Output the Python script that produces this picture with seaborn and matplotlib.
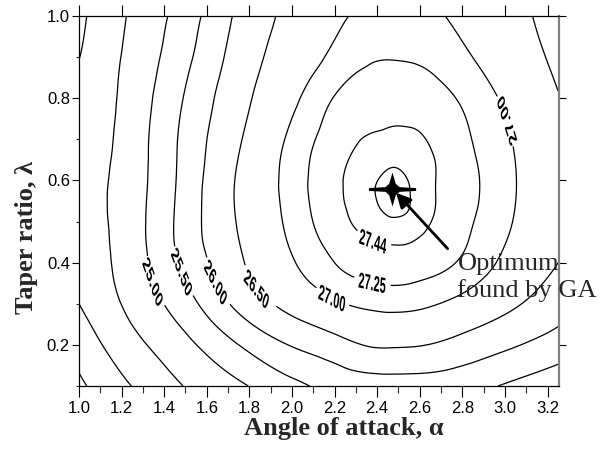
import numpy as np
import matplotlib
matplotlib.use("Agg")
import matplotlib.pyplot as plt
import matplotlib.tri as mtri
from matplotlib.textpath import TextPath
from matplotlib.font_manager import FontProperties
from matplotlib.patches import PathPatch
from matplotlib.transforms import Affine2D
import seaborn as sns

# Sample grid: angle of attack (columns) and taper ratio (rows)
alpha_grid = [1.0, 1.25, 1.5, 1.75, 2.0, 2.2, 2.35, 2.47, 2.6, 2.8, 3.0, 3.25]
taper_grid = [0.1, 0.2, 0.3, 0.4, 0.48, 0.58, 0.68, 0.8, 0.9, 1.0]

# Response values, one list per taper ratio (bottom to top)
resp_t010 = [23.41, 24.01, 24.52, 24.92, 25.37, 25.66, 25.74, 25.77, 25.76, 25.68, 25.46, 25.15]
resp_t020 = [23.70, 24.35, 24.88, 25.50, 26.03, 26.31, 26.52, 26.55, 26.52, 26.33, 26.09, 25.78]
resp_t030 = [24.00, 24.63, 25.30, 26.13, 26.66, 26.95, 27.06, 27.09, 27.06, 26.89, 26.62, 26.22]
resp_t040 = [24.18, 24.76, 25.62, 26.43, 26.97, 27.25, 27.35, 27.38, 27.35, 27.22, 26.93, 26.50]
resp_t048 = [24.25, 24.79, 25.72, 26.52, 27.07, 27.36, 27.46, 27.478, 27.456, 27.30, 27.04, 26.62]
resp_t058 = [24.28, 24.78, 25.69, 26.56, 27.12, 27.41, 27.487, 27.515, 27.481, 27.34, 27.086, 26.66]
resp_t068 = [24.20, 24.75, 25.65, 26.48, 27.09, 27.37, 27.459, 27.473, 27.463, 27.31, 27.06, 26.62]
resp_t080 = [24.10, 24.70, 25.54, 26.34, 26.92, 27.26, 27.35, 27.375, 27.358, 27.22, 26.95, 26.52]
resp_t090 = [23.99, 24.64, 25.38, 26.21, 26.75, 27.07, 27.22, 27.24, 27.22, 27.06, 26.79, 26.41]
resp_t100 = [23.90, 24.57, 25.25, 26.09, 26.63, 26.93, 27.06, 27.12, 27.08, 26.92, 26.67, 26.35]

contour_levels = [23.5, 24.0, 24.5, 25.0, 25.5, 26.0, 26.5, 27.0, 27.25, 27.44, 27.5]

# Optimum located by the genetic algorithm
opt_alpha = 2.47
opt_taper = 0.58

x_ticks = [1.0, 1.2, 1.4, 1.6, 1.8, 2.0, 2.2, 2.4, 2.6, 2.8, 3.0, 3.2]
y_ticks = [0.2, 0.4, 0.6, 0.8, 1.0]

sns.set_style("ticks")
plt.rcParams["font.family"] = ["Liberation Sans", "DejaVu Sans"]
serif = ["Liberation Serif", "DejaVu Serif"]

fig = plt.figure(figsize=(6.07, 4.5), dpi=100)
ax = fig.add_axes([79 / 607, 64 / 450, 480 / 607, 370 / 450])
ax.set_xlim(1.0, 3.254)
ax.set_ylim(0.1, 1.0)
ax.set_autoscale_on(False)

# Smooth the sampled response with the library's cubic triangulation refiner
Z = np.array([resp_t010, resp_t020, resp_t030, resp_t040, resp_t048,
              resp_t058, resp_t068, resp_t080, resp_t090, resp_t100])
A, T = np.meshgrid(alpha_grid, taper_grid)
y_scale = 2.5
tri = mtri.Triangulation(A.ravel(), T.ravel() * y_scale)
interp = mtri.CubicTriInterpolator(tri, Z.ravel(), kind="min_E")
tri_f, z_f = mtri.UniformTriRefiner(tri).refine_field(Z.ravel(), triinterpolator=interp, subdiv=5)
tri_plot = mtri.Triangulation(tri_f.x, tri_f.y / y_scale, tri_f.triangles)

cs = ax.tricontour(tri_plot, z_f, levels=contour_levels,
                   colors="black", linewidths=0.9)

# Inline labels; gaps sized for the narrow labels drawn afterwards
steep_spots = [(1.384, 0.36), (1.488, 0.379), (1.652, 0.355), (1.844, 0.34),
               (2.997, 0.743)]
flat_spots = [(2.186, 0.312), (2.374, 0.345), (2.37, 0.44)]
with plt.rc_context({"font.family": ["Liberation Sans", "DejaVu Sans"],
                     "font.weight": "bold"}):
    ax.clabel(cs, fmt="%.2f", fontsize=14, inline=True,
              inline_spacing=2, manual=steep_spots)
    ax.clabel(cs, fmt="%.2f", fontsize=9.5, inline=True,
              inline_spacing=2, manual=flat_spots)

# Redraw each label as a horizontally squeezed bold glyph outline
squeeze = 0.5
label_font = FontProperties(family=["Liberation Sans", "DejaVu Sans"], weight="bold")
for t in list(cs.labelTexts):
    s = t.get_text()
    x, y = t.get_position()
    rot = t.get_rotation()
    if x > 2.8 and y > 0.6:
        rot += 180
    r = np.deg2rad(rot)
    rot_u = np.rad2deg(np.arctan2(np.sin(r), np.cos(r) / squeeze))
    tp = TextPath((0, 0), s, size=22, prop=label_font)
    bb = tp.get_extents()
    cx, cy = (bb.x0 + bb.x1) / 2, (bb.y0 + bb.y1) / 2
    px, py = ax.transData.transform((x, y))
    tr = (Affine2D().translate(-cx, -cy).rotate_deg(rot_u)
          .scale(squeeze, 1.0).translate(px, py))
    fig.add_artist(PathPatch(tp, transform=tr, facecolor="black",
                             edgecolor="none", zorder=4))
    t.set_visible(False)

# Optimum marker: four-pointed star
star = [(-1, 0.06), (-0.3, 0.1), (-0.14, 0.24), (0, 0.72), (0.14, 0.24),
        (0.3, 0.1), (1, 0.06), (1, -0.06), (0.3, -0.1), (0.14, -0.24),
        (0, -0.72), (-0.14, -0.24), (-0.3, -0.1), (-1, -0.06)]
sns.scatterplot(x=[opt_alpha], y=[opt_taper], marker=star, s=34 ** 2,
                color="black", linewidth=0, ax=ax, zorder=5)

ax.annotate("", xy=(2.489, 0.570), xytext=(2.731, 0.434),
            arrowprops=dict(arrowstyle="-|>", color="black", lw=2.0,
                            mutation_scale=22, shrinkA=0, shrinkB=0))
ax.text(2.777, 0.3164, "Optimum\nfound by GA", fontsize=19, family=serif,
        ha="left", va="baseline", linespacing=1.2, clip_on=False, zorder=6)

ax.set_xticks(x_ticks)
ax.set_xticklabels([f"{v:.1f}" for v in x_ticks])
ax.set_xticks(np.arange(1.0, 3.26, 0.1), minor=True)
ax.set_yticks(y_ticks)
ax.set_yticklabels([f"{v:.1f}" for v in y_ticks])
ax.set_yticks(np.arange(0.1, 1.01, 0.1), minor=True)
ax.set_xlim(1.0, 3.254)
ax.set_ylim(0.1, 1.0)

ax.tick_params(axis="x", which="major", direction="out", length=8, width=0.8,
               top=True, bottom=True, labelsize=12, pad=3, colors="black")
ax.tick_params(axis="x", which="minor", direction="out", length=5, width=0.8,
               top=False, bottom=True)
ax.tick_params(axis="y", which="major", direction="out", length=5, width=0.8,
               left=True, right=True, labelsize=12, pad=1.5, colors="black")
ax.tick_params(axis="y", which="minor", direction="out", length=2.5, width=0.8,
               left=True, right=False)

for side in ["left", "top", "bottom"]:
    ax.spines[side].set_color("black")
    ax.spines[side].set_linewidth(0.9)
ax.spines["right"].set_color("#808080")
ax.spines["right"].set_linewidth(1.6)

ax.set_xlabel("Angle of attack, α", fontsize=19, fontweight="bold", family=serif)
ax.set_ylabel("Taper ratio, λ", fontsize=19, fontweight="bold", family=serif)
ax.xaxis.set_label_coords(0.551, -0.084)
ax.yaxis.set_label_coords(-0.085, 0.401)

fig.savefig("out.png", dpi=100)
